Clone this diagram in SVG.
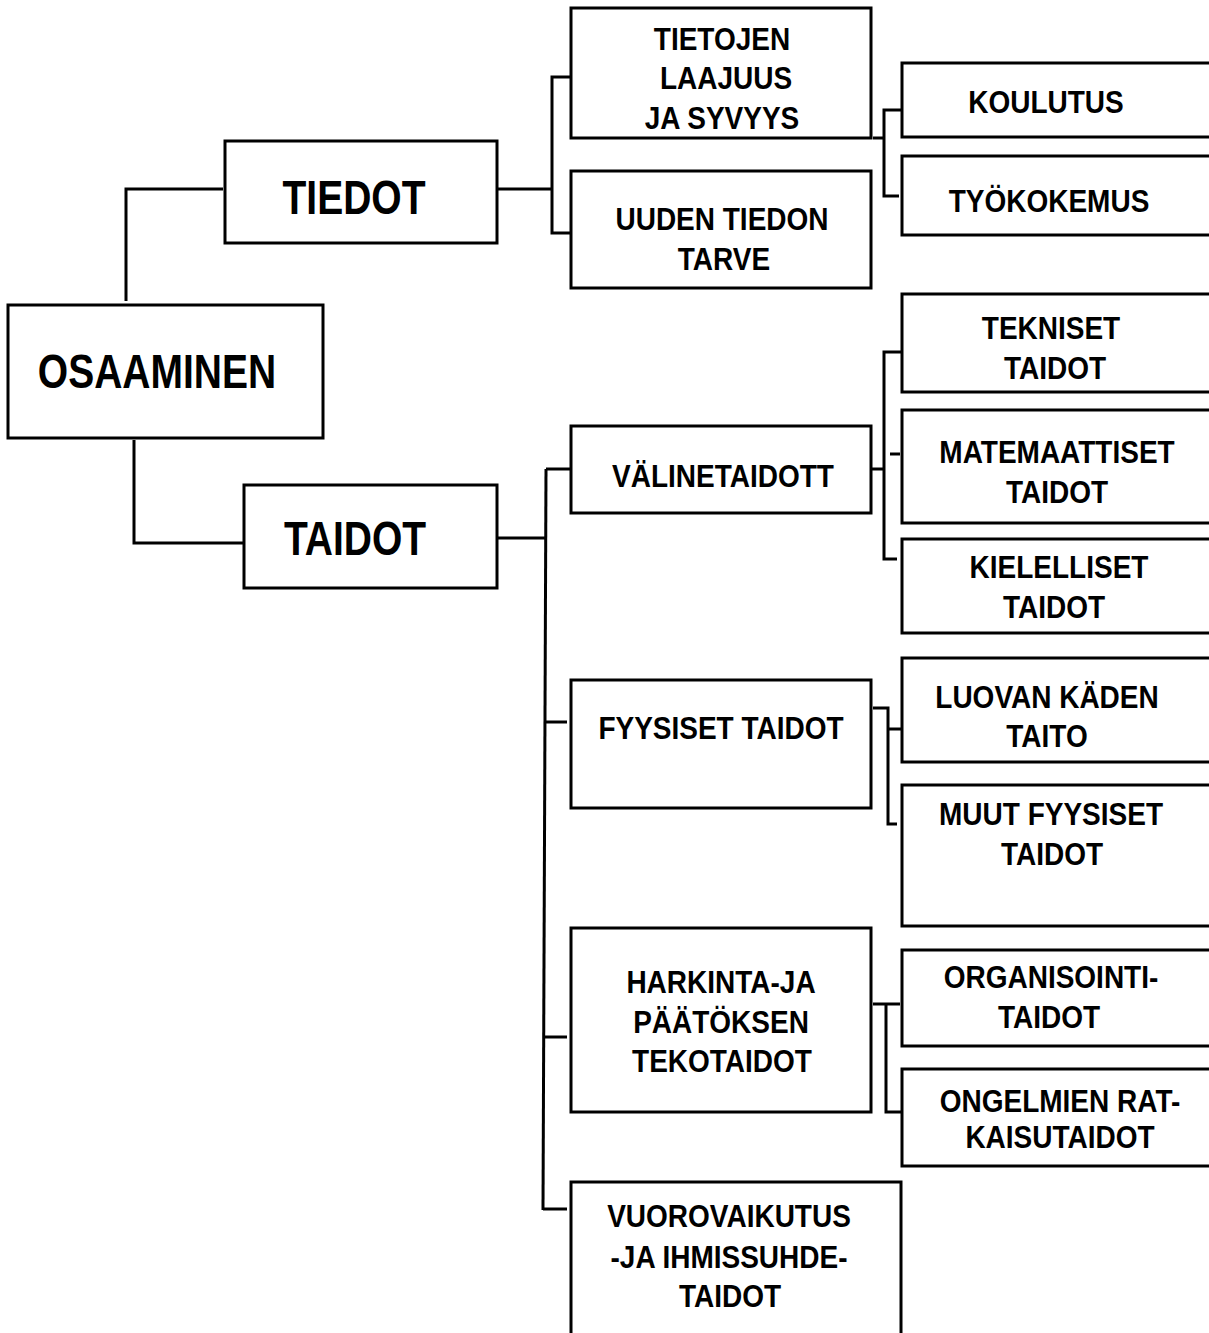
<svg xmlns="http://www.w3.org/2000/svg" width="1209" height="1333" viewBox="0 0 1209 1333">
<style>
.b{fill:#fff;stroke:#000;stroke-width:3}
.c{fill:none;stroke:#000;stroke-width:3}
text{font-family:"Liberation Sans",Arial,sans-serif;font-weight:bold;fill:#000;text-anchor:middle}
.s{font-size:28px}
.L{font-size:39px}
</style>
<rect width="1209" height="1333" fill="#fff"/>
<g id="connectors">
<path class="c" d="M126,301 V189 H223"/>
<path class="c" d="M134,440 V543 H243"/>
<path class="c" d="M497,189 H552"/>
<path class="c" d="M571,77 H552 V233 H571"/>
<path class="c" d="M873,138 H884"/>
<path class="c" d="M902,110 H884 V196 H899"/>
<path class="c" d="M497,538 H546"/>
<path class="c" d="M546,469 L543,1210"/>
<path class="c" d="M546,469 H571"/>
<path class="c" d="M546,722 H567"/>
<path class="c" d="M545,1037 H567"/>
<path class="c" d="M543,1209 H567"/>
<path class="c" d="M871,469 H884"/>
<path class="c" d="M902,352 H884 V559 H897"/>
<path class="c" d="M890,454 H900"/>
<path class="c" d="M873,708 H888 V824 H897"/>
<path class="c" d="M888,729 H902"/>
<path class="c" d="M873,1004 H900"/>
<path class="c" d="M886,1004 V1112 H902"/>
</g>
<g id="osaaminen"><rect class="b" x="8" y="305" width="315" height="133"/>
<text class="L" transform="translate(157,388) scale(1 1.24)">OSAAMINEN</text></g>
<g id="tiedot"><rect class="b" x="225" y="141" width="272" height="102"/>
<text class="L" transform="translate(354,214) scale(1 1.24)">TIEDOT</text></g>
<g id="taidot"><rect class="b" x="244" y="485" width="253" height="103"/>
<text class="L" transform="translate(355,555) scale(1 1.24)">TAIDOT</text></g>
<g id="tietojen"><rect class="b" x="571" y="8" width="300" height="130"/>
<text class="s" transform="translate(722,50) scale(1 1.14)">TIETOJEN</text>
<text class="s" transform="translate(726,89) scale(1 1.14)">LAAJUUS</text>
<text class="s" transform="translate(722,129) scale(1 1.14)">JA SYVYYS</text></g>
<g id="uuden"><rect class="b" x="571" y="171" width="300" height="117"/>
<text class="s" transform="translate(722,230) scale(1 1.14)">UUDEN TIEDON</text>
<text class="s" transform="translate(724,270) scale(1 1.14)">TARVE</text></g>
<g id="koulutus"><rect class="b" x="902" y="63" width="320" height="74"/>
<text class="s" transform="translate(1046,113) scale(1 1.14)">KOULUTUS</text></g>
<g id="tyokokemus"><rect class="b" x="902" y="156" width="320" height="79"/>
<text class="s" transform="translate(1049,212) scale(1 1.14)">TYÖKOKEMUS</text></g>
<g id="tekniset"><rect class="b" x="902" y="294" width="320" height="98"/>
<text class="s" transform="translate(1051,339) scale(1 1.14)">TEKNISET</text>
<text class="s" transform="translate(1055,379) scale(1 1.14)">TAIDOT</text></g>
<g id="matemaattiset"><rect class="b" x="902" y="410" width="320" height="113"/>
<text class="s" transform="translate(1057,463) scale(1 1.14)">MATEMAATTISET</text>
<text class="s" transform="translate(1057,503) scale(1 1.14)">TAIDOT</text></g>
<g id="kielelliset"><rect class="b" x="902" y="539" width="320" height="94"/>
<text class="s" transform="translate(1059,578) scale(1 1.14)">KIELELLISET</text>
<text class="s" transform="translate(1054,618) scale(1 1.14)">TAIDOT</text></g>
<g id="valinetaidot"><rect class="b" x="571" y="426" width="300" height="87"/>
<text class="s" transform="translate(723,487) scale(1 1.14)">VÄLINETAIDOTT</text></g>
<g id="fyysiset"><rect class="b" x="571" y="680" width="300" height="128"/>
<text class="s" transform="translate(721,739) scale(1 1.14)">FYYSISET TAIDOT</text></g>
<g id="luovan"><rect class="b" x="902" y="658" width="320" height="104"/>
<text class="s" transform="translate(1047,708) scale(1 1.14)">LUOVAN KÄDEN</text>
<text class="s" transform="translate(1047,747) scale(1 1.14)">TAITO</text></g>
<g id="muut"><rect class="b" x="902" y="785" width="320" height="141"/>
<text class="s" transform="translate(1051,825) scale(1 1.14)">MUUT FYYSISET</text>
<text class="s" transform="translate(1052,865) scale(1 1.14)">TAIDOT</text></g>
<g id="harkinta"><rect class="b" x="571" y="928" width="300" height="184"/>
<text class="s" transform="translate(721,993) scale(1 1.14)">HARKINTA-JA</text>
<text class="s" transform="translate(721,1033) scale(1 1.14)">PÄÄTÖKSEN</text>
<text class="s" transform="translate(722,1072) scale(1 1.14)">TEKOTAIDOT</text></g>
<g id="organisointi"><rect class="b" x="902" y="950" width="320" height="96"/>
<text class="s" transform="translate(1051,988) scale(1 1.14)">ORGANISOINTI-</text>
<text class="s" transform="translate(1049,1028) scale(1 1.14)">TAIDOT</text></g>
<g id="ongelmien"><rect class="b" x="902" y="1069" width="320" height="97"/>
<text class="s" transform="translate(1060,1112) scale(1 1.14)">ONGELMIEN RAT-</text>
<text class="s" transform="translate(1060,1148) scale(1 1.14)">KAISUTAIDOT</text></g>
<g id="vuorovaikutus"><rect class="b" x="571" y="1182" width="330" height="170"/>
<text class="s" transform="translate(729,1227) scale(1 1.14)">VUOROVAIKUTUS</text>
<text class="s" transform="translate(729,1268) scale(1 1.14)">-JA IHMISSUHDE-</text>
<text class="s" transform="translate(730,1307) scale(1 1.14)">TAIDOT</text></g>
</svg>
